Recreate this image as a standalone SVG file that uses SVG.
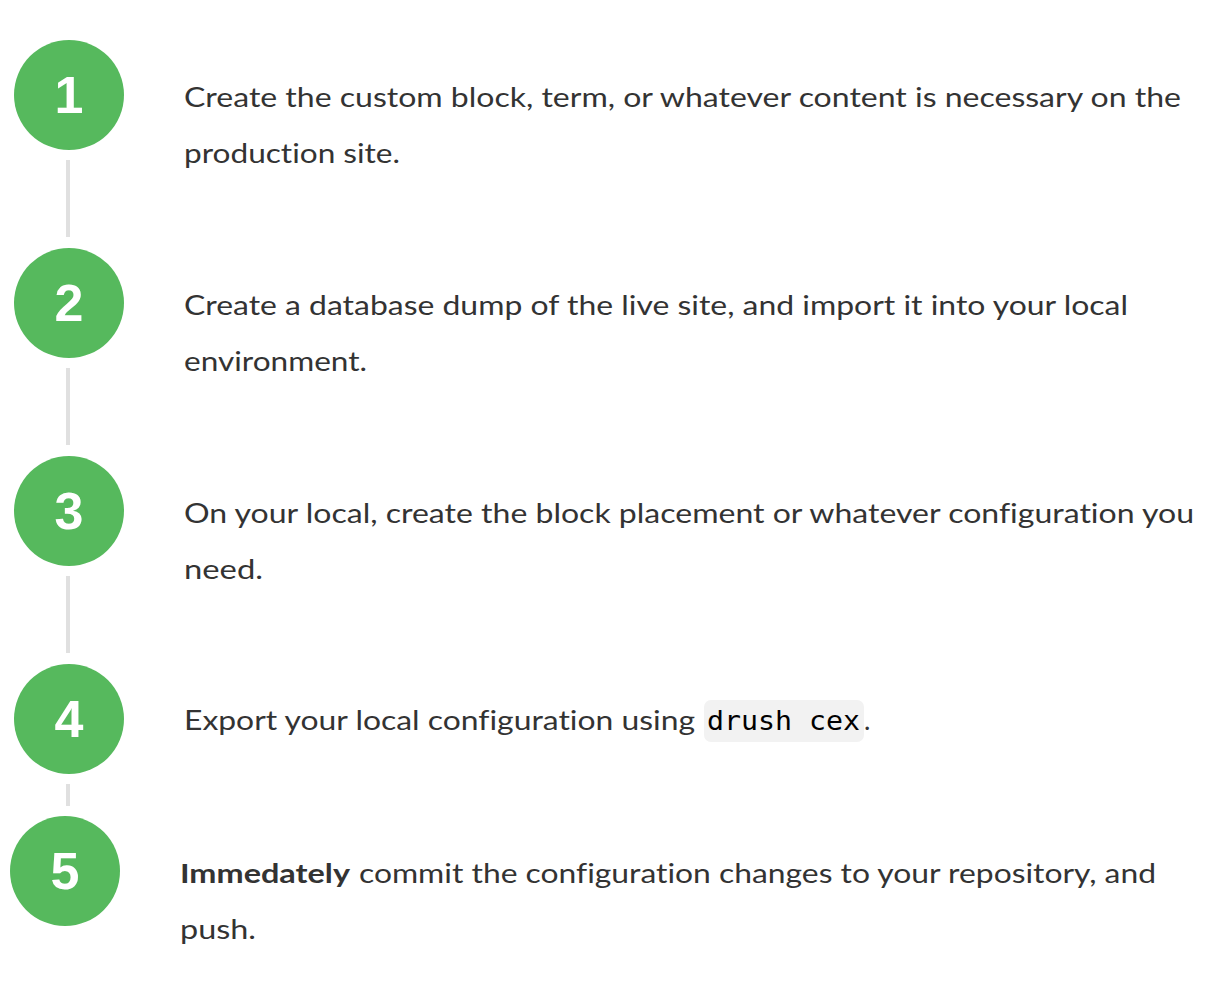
<svg xmlns="http://www.w3.org/2000/svg" width="1232" height="988" viewBox="0 0 1232 988">
<style>
.c{fill:#56b95d}
.n{font-family:"Liberation Sans",Arial,sans-serif;font-weight:bold;font-size:52px;fill:#fff;text-anchor:middle}
.t{font-family:Lato,"Liberation Sans",sans-serif;font-size:27px;fill:#333;font-variant-ligatures:none}
.b{font-weight:bold}
.m{font-family:"DejaVu Sans Mono","Liberation Mono",monospace;font-size:26px;fill:#000}
.l{stroke:#e0e0e0;stroke-width:4}
</style>
<rect width="1232" height="988" fill="#fff"/>
<g id="connectors">
<line class="l" x1="68" y1="160" x2="68" y2="237"/>
<line class="l" x1="68" y1="368" x2="68" y2="445"/>
<line class="l" x1="68" y1="576" x2="68" y2="653"/>
<line class="l" x1="68" y1="784" x2="68" y2="806"/>
</g>
<g id="step1">
<circle class="c" cx="69" cy="95" r="55"/>
<text class="n" x="69" y="113">1</text>
<text class="t" x="184" y="107" textLength="997" lengthAdjust="spacingAndGlyphs">Create the custom block, term, or whatever content is necessary on the</text>
<text class="t" x="184" y="163" textLength="216" lengthAdjust="spacingAndGlyphs">production site.</text>
</g>
<g id="step2">
<circle class="c" cx="69" cy="303" r="55"/>
<text class="n" x="69" y="321">2</text>
<text class="t" x="184" y="315" textLength="944" lengthAdjust="spacingAndGlyphs">Create a database dump of the live site, and import it into your local</text>
<text class="t" x="184" y="371" textLength="183" lengthAdjust="spacingAndGlyphs">environment.</text>
</g>
<g id="step3">
<circle class="c" cx="69" cy="511" r="55"/>
<text class="n" x="69" y="529">3</text>
<text class="t" x="184" y="523" textLength="1010" lengthAdjust="spacingAndGlyphs">On your local, create the block placement or whatever configuration you</text>
<text class="t" x="184" y="579" textLength="79" lengthAdjust="spacingAndGlyphs">need.</text>
</g>
<g id="step4">
<circle class="c" cx="69" cy="719" r="55"/>
<text class="n" x="69" y="737">4</text>
<text class="t" x="184" y="730" textLength="511" lengthAdjust="spacingAndGlyphs">Export your local configuration using</text>
<rect x="704" y="700" width="160" height="42" rx="7" fill="#f2f2f2"/>
<text class="m" x="707" y="730" textLength="153" lengthAdjust="spacingAndGlyphs">drush cex</text>
<text class="t" x="864" y="730">.</text>
</g>
<g id="step5">
<circle class="c" cx="65" cy="871" r="55"/>
<text class="n" x="65" y="889">5</text>
<text class="t" x="180" y="883"><tspan class="b" textLength="170" lengthAdjust="spacingAndGlyphs">Immedately</tspan><tspan x="359" textLength="797" lengthAdjust="spacingAndGlyphs">commit the configuration changes to your repository, and</tspan></text>
<text class="t" x="180" y="939" textLength="76" lengthAdjust="spacingAndGlyphs">push.</text>
</g>
</svg>
